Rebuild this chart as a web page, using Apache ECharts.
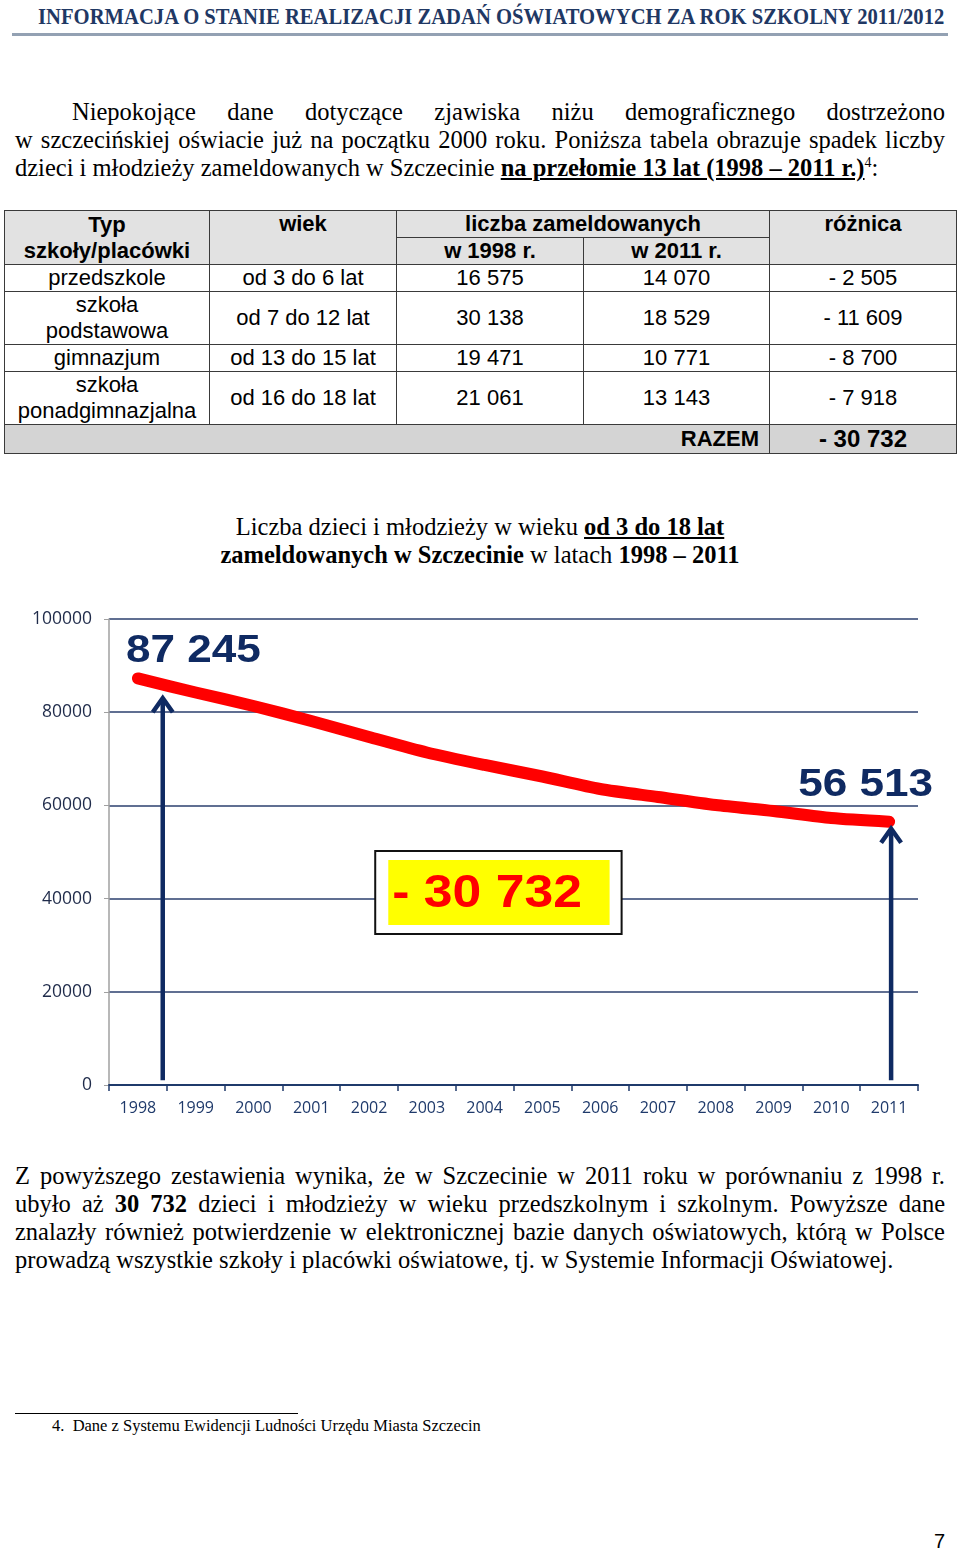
<!DOCTYPE html>
<html><head><meta charset="utf-8">
<script src="https://cdn.jsdelivr.net/npm/echarts@6/dist/echarts.min.js"></script>
<style>
html,body{margin:0;padding:0;background:#fff;}
body{width:960px;height:1551px;position:relative;overflow:hidden;}
.serif{font-family:'Liberation Serif','Times New Roman',serif;color:#000;}
.ln{position:absolute;left:15px;width:930px;height:28px;line-height:28px;font-size:24.5px;white-space:nowrap;}
.just{text-align:justify;text-align-last:justify;}
#hdr{position:absolute;left:38px;top:4px;font-family:'Liberation Serif',serif;font-weight:bold;font-size:23px;color:#1F3864;white-space:nowrap;transform-origin:0 0;line-height:26px;}
#rule{position:absolute;left:12px;top:33px;width:936px;height:3px;background:#93A1B3;}
table{position:absolute;left:4px;top:210px;border-collapse:collapse;table-layout:fixed;font-family:'Liberation Sans',Arial,sans-serif;font-size:22px;color:#000;}
td{border:1.5px solid #3a3a3a;text-align:center;padding:0;line-height:26px;vertical-align:middle;overflow:hidden;white-space:nowrap;}
td.h{background:#E2E2E2;font-weight:bold;}
td.top{vertical-align:top;}
td.tot{background:#D4D4D4;font-weight:bold;}
#title{position:absolute;left:0;width:960px;top:513px;text-align:center;font-size:24.5px;line-height:28px;}
#chart{position:absolute;left:0;top:600px;width:960px;height:530px;}
#fnrule{position:absolute;left:15px;top:1413px;width:283px;height:1px;background:#000;}
#fn{position:absolute;left:52px;top:1416px;font-size:16.5px;line-height:20px;white-space:nowrap;}
#pg{position:absolute;left:934px;top:1529px;font-family:'Liberation Sans',Arial,sans-serif;font-size:20px;line-height:24px;}
</style></head>
<body>
<div id="hdr">INFORMACJA O STANIE REALIZACJI ZADAŃ OŚWIATOWYCH ZA ROK SZKOLNY 2011/2012</div>
<div id="rule"></div>

<div class="serif ln just" style="top:98px;left:72px;width:873px;">Niepokojące dane dotyczące zjawiska niżu demograficznego dostrzeżono</div>
<div class="serif ln just" style="top:126px;">w szczecińskiej oświacie już na początku 2000 roku. Poniższa tabela obrazuje spadek liczby</div>
<div class="serif ln" style="top:154px;">dzieci i młodzieży zameldowanych w Szczecinie <b><u>na przełomie 13 lat (1998 – 2011 r.)</u></b><sup style="font-size:14px;line-height:0;">4</sup>:</div>

<table id="tbl">
<colgroup><col style="width:205px"><col style="width:187px"><col style="width:187px"><col style="width:186px"><col style="width:187px"></colgroup>
<tbody id="tb"></tbody>
</table>

<div id="title" class="serif">Liczba dzieci i młodzieży w wieku <b><u>od 3 do 18 lat</u></b><br><b>zameldowanych w Szczecinie</b> w latach <b>1998 – 2011</b></div>

<div id="chart"></div>

<div class="serif ln just" style="top:1162px;">Z powyższego zestawienia wynika, że w Szczecinie w 2011 roku w porównaniu z 1998 r.</div>
<div class="serif ln just" style="top:1190px;">ubyło aż <b>30 732</b> dzieci i młodzieży w wieku przedszkolnym i szkolnym. Powyższe dane</div>
<div class="serif ln just" style="top:1218px;">znalazły również potwierdzenie w elektronicznej bazie danych oświatowych, którą w Polsce</div>
<div class="serif ln" style="top:1246px;">prowadzą wszystkie szkoły i placówki oświatowe, tj. w Systemie Informacji Oświatowej.</div>

<div id="fnrule"></div>
<div id="fn" class="serif">4.&nbsp;&nbsp;Dane z Systemu Ewidencji Ludności Urzędu Miasta Szczecin</div>
<div id="pg">7</div>

<script>
// ---- table data ----
const tableTypes = ['przedszkole', 'szkoła<br>podstawowa', 'gimnazjum', 'szkoła<br>ponadgimnazjalna'];
const tableAges = ['od 3 do 6 lat', 'od 7 do 12 lat', 'od 13 do 15 lat', 'od 16 do 18 lat'];
const count1998 = ['16 575', '30 138', '19 471', '21 061'];
const count2011 = ['14 070', '18 529', '10 771', '13 143'];
const diffs = ['- 2 505', '- 11 609', '- 8 700', '- 7 918'];
const totalDiff = '- 30 732';

// ---- chart data ----
const years = ['1998','1999','2000','2001','2002','2003','2004','2005','2006','2007','2008','2009','2010','2011'];
const counts = [87245, 84230, 81330, 78110, 74680, 71350, 68670, 66200, 63520, 61800, 60090, 58800, 57300, 56513];
const startLabel = '87 245';
const endLabel = '56 513';
const diffLabel = '- 30 732';

// header fit
const hdr = document.getElementById('hdr');
hdr.style.transform = 'scaleX(' + (906 / hdr.offsetWidth) + ')';

// build table
const tb = document.getElementById('tb');
let html = '';
html += '<tr style="height:27px"><td class="h" rowspan="2">Typ<br>szkoły/placówki</td><td class="h top" rowspan="2">wiek</td><td class="h" colspan="2">liczba zameldowanych</td><td class="h top" rowspan="2">różnica</td></tr>';
html += '<tr style="height:27px"><td class="h">w 1998 r.</td><td class="h">w 2011 r.</td></tr>';
const rowH = [27, 53, 27, 53];
for (let i = 0; i < tableTypes.length; i++) {
  html += '<tr style="height:' + rowH[i] + 'px"><td>' + tableTypes[i] + '</td><td>' + tableAges[i] + '</td><td>' + count1998[i] + '</td><td>' + count2011[i] + '</td><td>' + diffs[i] + '</td></tr>';
}
html += '<tr style="height:29px"><td class="tot" colspan="4" style="text-align:right;padding-right:10px;">RAZEM</td><td class="tot" style="font-size:24px;">' + totalDiff + '</td></tr>';
tb.innerHTML = html;

// chart
const chart = echarts.init(document.getElementById('chart'), null, {renderer: 'canvas'});
const navy = '#0F2A62';
chart.setOption({
  animation: false,
  grid: {left: 109, right: 42, top: 19, bottom: 45},
  xAxis: {
    type: 'category', data: years, boundaryGap: true,
    axisLine: {lineStyle: {color: '#1F3A6B', width: 2}},
    axisTick: {show: true, length: 6, lineStyle: {color: '#1F3A6B', width: 1.5}},
    axisLabel: {color: '#1F3A6B', fontFamily: "'Open Sans',sans-serif", fontSize: 16, margin: 15}
  },
  yAxis: {
    type: 'value', min: 0, max: 100000, interval: 20000,
    axisLine: {show: true, lineStyle: {color: '#A0A0A0', width: 1.5}},
    axisTick: {show: true, length: 5, lineStyle: {color: '#A0A0A0'}},
    axisLabel: {color: '#1F2B4A', fontFamily: "'Open Sans',sans-serif", fontSize: 17.5, margin: 17,
      formatter: function (v) { return String(v); }},
    splitLine: {lineStyle: {color: '#2B3F6E', width: 1.5}}
  },
  series: [{
    type: 'line', data: counts, smooth: 0.25, symbol: 'none', z: 5,
    lineStyle: {color: '#FF0000', width: 12, cap: 'round', join: 'round'}
  }]
});

function px(i, v) { return chart.convertToPixel({gridIndex: 0}, [i, v]); }
function pxAt(fi, v) {
  const i0 = Math.floor(fi), f = fi - i0;
  const a = px(i0, v), b = px(i0 + 1, v);
  return [a[0] + (b[0] - a[0]) * f, a[1]];
}
function arrow(x, yBottom, yTop) {
  return [
    {type: 'line', shape: {x1: x, y1: yBottom, x2: x, y2: yTop + 2}, style: {stroke: navy, lineWidth: 4.5}, z: 10},
    {type: 'polyline', shape: {points: [[x - 10, yTop + 14], [x, yTop], [x + 10, yTop + 14]]}, style: {stroke: navy, lineWidth: 4.5, fill: null, lineJoin: 'miter'}, z: 10}
  ];
}
const last = counts.length - 1;
const la = pxAt(0.43, 1000), laTop = px(0, 83000);
const ra = px(last, 1000), raTop = px(last, 55000);
const p0 = px(0, counts[0]);
const pN = px(last, counts[last]);
const boxTL = pxAt(4.107, 50215), boxBR = pxAt(8.371, 32400);
const inTL = pxAt(4.333, 48280), inBR = pxAt(8.163, 34335);
const g = [];
g.push(...arrow(la[0], la[1], laTop[1]));
g.push(...arrow(ra[0] + 2, ra[1], raTop[1]));
g.push({type: 'text', x: p0[0] - 12, y: p0[1] - 8, scaleX: 1.16, z: 10,
  style: {text: startLabel, fill: navy, font: "bold 38px 'Liberation Sans', Arial, sans-serif", textAlign: 'left', textVerticalAlign: 'bottom'}});
g.push({type: 'text', x: pN[0] + 44, y: pN[1] - 17, scaleX: 1.16, z: 10,
  style: {text: endLabel, fill: navy, font: "bold 38px 'Liberation Sans', Arial, sans-serif", textAlign: 'right', textVerticalAlign: 'bottom'}});
g.push({type: 'rect', shape: {x: boxTL[0], y: boxTL[1], width: boxBR[0] - boxTL[0], height: boxBR[1] - boxTL[1]}, style: {fill: '#fff', stroke: '#111', lineWidth: 2}, z: 10});
g.push({type: 'rect', shape: {x: inTL[0], y: inTL[1], width: inBR[0] - inTL[0], height: inBR[1] - inTL[1]}, style: {fill: '#FFFF00'}, z: 11});
g.push({type: 'text', x: inTL[0] + 4, y: (inTL[1] + inBR[1]) / 2 + 2, scaleX: 1.1, z: 12,
  style: {text: diffLabel, fill: '#FF0000', font: "bold 47px 'Liberation Sans', Arial, sans-serif", textAlign: 'left', textVerticalAlign: 'middle'}});
chart.setOption({graphic: g});
</script>
</body></html>
